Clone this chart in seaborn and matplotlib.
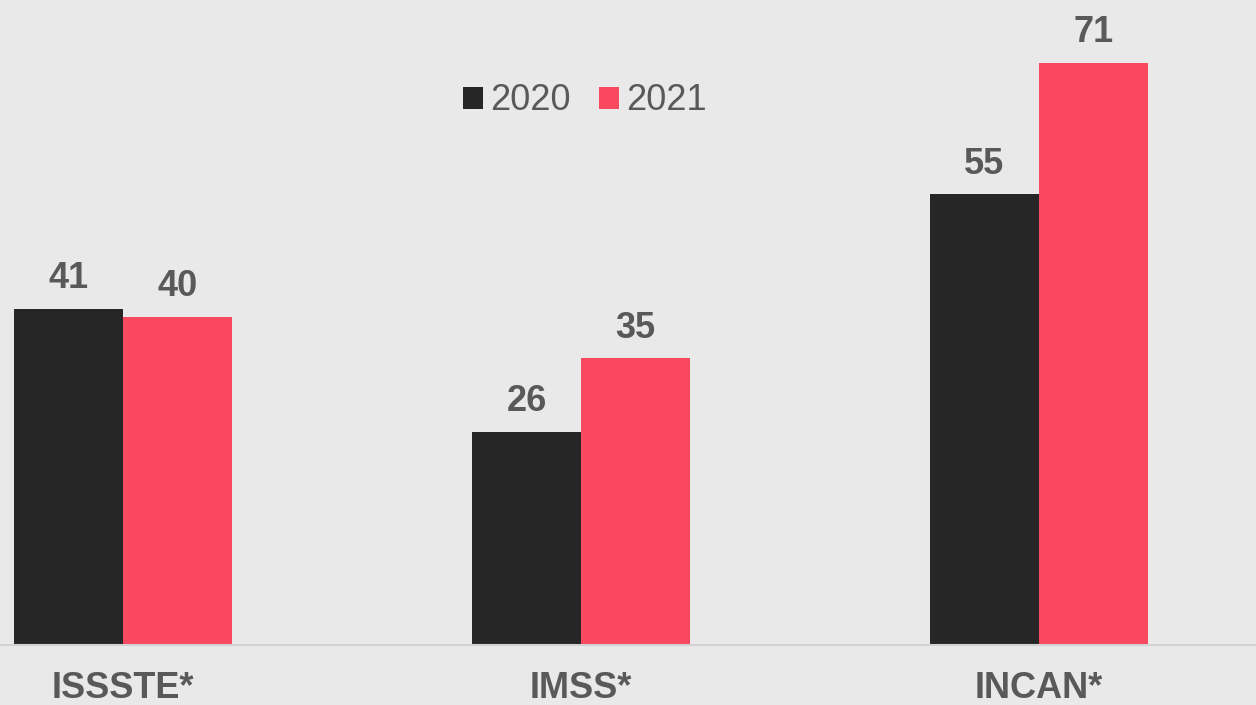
import pandas as pd
import numpy as np
import matplotlib.pyplot as plt
import seaborn as sns
from matplotlib.patches import Patch

instituciones = ['ISSSTE*', 'IMSS*', 'INCAN*']
anios = ['2020', '2021']
valores_2020 = [41, 26, 55]
valores_2021 = [40, 35, 71]
colores = ['#262626', '#f94860']

df = pd.DataFrame({
    'inst': instituciones * 2,
    'anio': [anios[0]] * 3 + [anios[1]] * 3,
    'valor': valores_2020 + valores_2021,
})

sns.set_theme(style='white')
plt.rcParams['font.family'] = ['Liberation Sans', 'DejaVu Sans']

bg = '#e9e9e9'
gris = '#595959'

fig = plt.figure(figsize=(12.56, 7.05), dpi=100, facecolor=bg)
ax = fig.add_axes([0, 60 / 705, 1, 645 / 705])
ax.set_facecolor(bg)

sns.barplot(data=df, x='inst', y='valor', hue='anio', palette=colores,
            width=0.476, gap=0, saturation=1, linewidth=0, ax=ax, legend=False)

for c in ax.containers:
    ax.bar_label(c, fontsize=26, fontweight='bold', color=gris, padding=9)

ax.set_xlim(-123 / 458, (1256 - 123) / 458)
ax.set_ylim(0, 645 / 8.2)
ax.set_xlabel('')
ax.set_ylabel('')
ax.set_yticks([])
ax.tick_params(axis='x', length=0, pad=19)
for t in ax.get_xticklabels():
    t.set_fontsize(26)
    t.set_fontweight('bold')
    t.set_color(gris)

for s in ['top', 'right', 'left']:
    ax.spines[s].set_visible(False)
ax.spines['bottom'].set_color('#d2d2d2')
ax.spines['bottom'].set_linewidth(1.5)

handles = [Patch(facecolor=colores[i], edgecolor='none', label=anios[i]) for i in range(2)]
leg = ax.legend(handles=handles, loc='center', bbox_to_anchor=(585 / 1256, 1 - 101 / 645),
                ncol=2, frameon=False, fontsize=26, handlelength=0.55, handleheight=0.55,
                handletextpad=0.2, columnspacing=0.8)
for t in leg.get_texts():
    t.set_color(gris)

fig.savefig('out.png', dpi=100, facecolor=bg)
